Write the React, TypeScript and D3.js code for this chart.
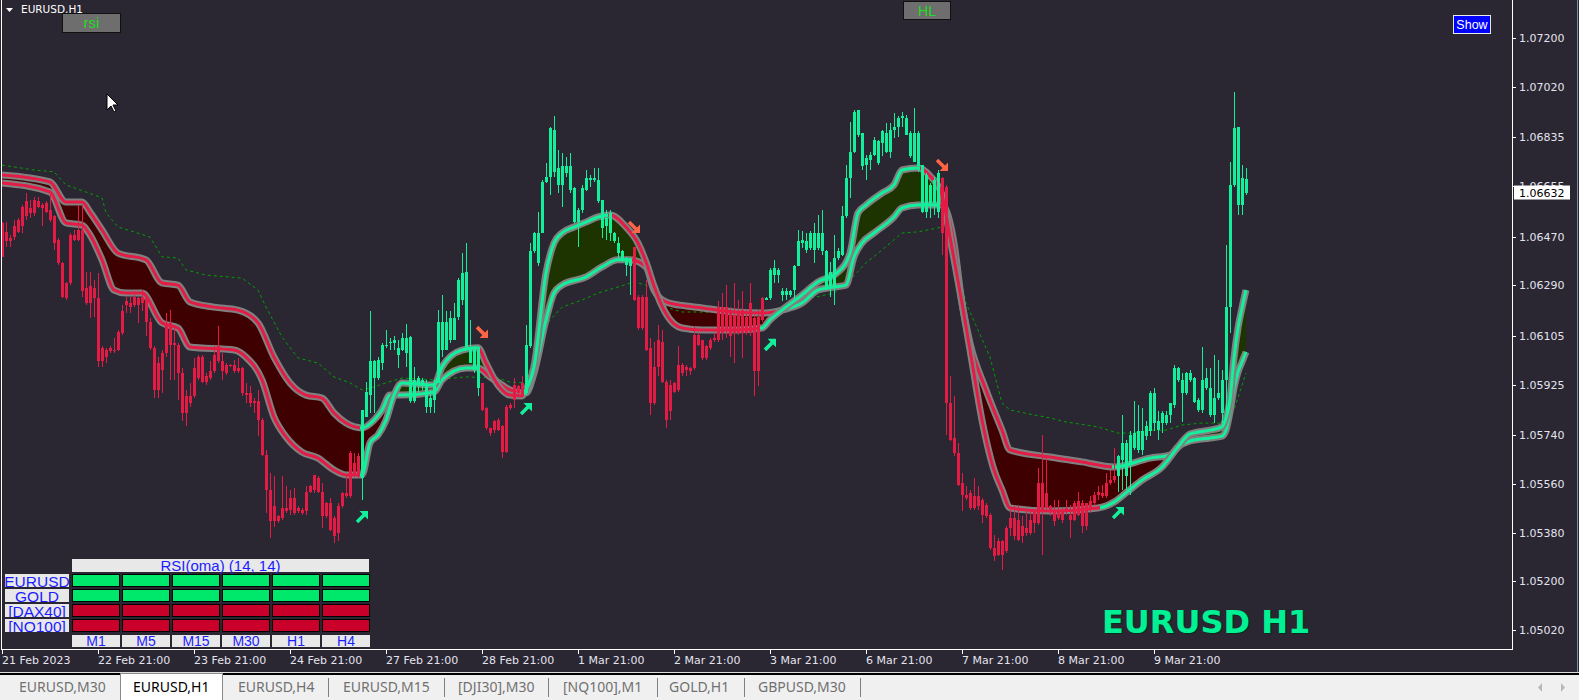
import React from "react";
import * as d3 from "d3";

// EURUSD H1 candles, prices stored as points over 1.00000 (6632 -> 1.06632)
const opens = [
  6519, 6488, 6464, 6507, 6531, 6580, 6599, 6574, 6605, 6599,
  6587, 6593, 6568, 6544, 6458, 6372, 6298, 6476, 6476, 6495,
  6495, 6280, 6286, 6280, 6243, 6059, 6053, 6059, 6053, 6120,
  6194, 6231, 6225, 6249, 6243, 6249, 6243, 6157, 6059, 6004,
  6041, 6139, 6151, 6077, 6071, 5967, 5881, 5881, 5985, 6028,
  6028, 5955, 5973, 6034, 6065, 6010, 5998, 5998, 5998, 5985,
  5985, 5893, 5893, 5863, 5863, 5795, 5666, 5537, 5476, 5439,
  5470, 5470, 5507, 5507, 5470, 5464, 5531, 5550, 5593, 5580,
  5531, 5488, 5488, 5433, 5476, 5525, 5525, 5672, 5636, 5660,
  5580, 5807, 5887, 5949, 5949, 6004, 6065, 6077, 6077, 6034,
  6053, 6040, 5863, 5863, 5924, 5918, 5844, 5844, 5869, 5930,
  6053, 6053, 6090, 6090, 6175, 6237, 6059, 6004, 5979, 5912,
  5930, 5838, 5764, 5789, 5795, 5771, 5844, 5850, 5924, 5918,
  5930, 5893, 6065, 6415, 6372, 6482, 6672, 6691, 6709, 6660,
  6660, 6703, 6642, 6525, 6525, 6568, 6642, 6679, 6679, 6599,
  6501, 6507, 6482, 6452, 6409, 6384, 6366, 6360, 6433, 6249,
  6249, 6249, 6059, 5991, 6090, 6083, 5936, 5924, 5930, 5998,
  5998, 5991, 5985, 6108, 6108, 6090, 6065, 6090, 6096, 6212,
  6212, 6212, 6188, 6182, 6188, 6200, 6175, 6225, 6169, 6175,
  6243, 6237, 6243, 6329, 6329, 6255, 6255, 6255, 6274, 6360,
  6446, 6421, 6427, 6421, 6427, 6415, 6415, 6341, 6280, 6390,
  6403, 6544, 6685, 6783, 6844, 6850, 6759, 6752, 6771, 6740,
  6814, 6783, 6783, 6863, 6875, 6906, 6906, 6850, 6746, 6850,
  6734, 6562, 6587, 6593, 6562, 6685, 6654, 5857, 5728, 5673,
  5562, 5519, 5525, 5513, 5513, 5501, 5482, 5446, 5323, 5347,
  5347, 5396, 5433, 5433, 5427, 5403, 5396, 5427, 5458, 5562,
  5562, 5525, 5476, 5458, 5464, 5458, 5470, 5446, 5488, 5495,
  5488, 5403, 5495, 5519, 5531, 5525, 5562, 5574, 5587, 5587,
  5648, 5587, 5630, 5691, 5685, 5685, 5734, 5752, 5783, 5759,
  5783, 5783, 5814, 5850, 5942, 5893, 5893, 5942, 5862, 5831,
  5831, 5911, 5813, 5813, 5874, 5819, 5942, 6212, 6660, 6874,
  6684, 6680,
];
const highs = [
  6525, 6525, 6476, 6531, 6537, 6587, 6629, 6605, 6617, 6617,
  6593, 6599, 6629, 6550, 6464, 6378, 6304, 6482, 6495, 6587,
  6587, 6341, 6341, 6310, 6335, 6065, 6059, 6065, 6096, 6126,
  6218, 6249, 6249, 6255, 6249, 6274, 6249, 6169, 6065, 6028,
  6053, 6188, 6200, 6145, 6077, 5985, 5906, 5930, 6022, 6034,
  6034, 5967, 6010, 6065, 6139, 6041, 6004, 6001, 6016, 6022,
  5991, 5930, 5918, 5875, 5906, 5801, 5685, 5599, 5587, 5445,
  5587, 5550, 5537, 5543, 5476, 5470, 5550, 5556, 5593, 5587,
  5562, 5494, 5507, 5439, 5488, 5531, 5593, 5679, 5672, 5672,
  5832, 5936, 6194, 6016, 6028, 6077, 6126, 6096, 6102, 6089,
  6114, 6148, 6102, 5991, 5955, 5948, 5942, 5906, 5942, 6200,
  6255, 6194, 6194, 6225, 6317, 6409, 6445, 6163, 6065, 6059,
  5930, 5844, 5764, 5795, 5801, 5777, 5850, 5856, 5948, 5924,
  5955, 6145, 6445, 6488, 6562, 6679, 6740, 6875, 6912, 6789,
  6777, 6764, 6777, 6654, 6574, 6660, 6715, 6697, 6721, 6721,
  6605, 6568, 6568, 6488, 6470, 6421, 6396, 6390, 6433, 6255,
  6255, 6310, 6096, 6083, 6145, 6126, 5942, 5942, 5936, 6065,
  6004, 5998, 5991, 6139, 6114, 6090, 6071, 6096, 6114, 6231,
  6261, 6292, 6212, 6298, 6237, 6268, 6200, 6298, 6182, 6200,
  6249, 6249, 6353, 6384, 6353, 6280, 6280, 6274, 6366, 6494,
  6489, 6482, 6489, 6519, 6550, 6568, 6421, 6378, 6476, 6427,
  6581, 6734, 6893, 6936, 6936, 6850, 6771, 6783, 6838, 6826,
  6863, 6887, 6887, 6924, 6912, 6930, 6918, 6857, 6943, 6857,
  6734, 6703, 6666, 6691, 6716, 6691, 6660, 5955, 5881, 5709,
  5599, 5550, 5538, 5581, 5550, 5507, 5488, 5452, 5372, 5360,
  5354, 5403, 5464, 5476, 5482, 5440, 5458, 5464, 5464, 5617,
  5740, 5666, 5482, 5501, 5501, 5470, 5501, 5482, 5495, 5531,
  5501, 5488, 5513, 5531, 5550, 5556, 5599, 5611, 5691, 5666,
  5814, 5722, 5752, 5863, 5850, 5838, 5789, 5900, 5912, 5826,
  5826, 5826, 5857, 5997, 5991, 5966, 5972, 5979, 5954, 5874,
  6064, 5985, 5985, 6034, 6015, 5979, 6439, 6745, 7003, 6874,
  6733, 6721,
];
const lows = [
  6396, 6433, 6433, 6458, 6482, 6482, 6531, 6537, 6544, 6574,
  6507, 6556, 6525, 6421, 6366, 6243, 6237, 6292, 6452, 6452,
  6249, 6218, 6169, 6175, 5991, 5991, 6004, 6040, 6041, 6047,
  6108, 6188, 6188, 6212, 6151, 6194, 6102, 6053, 5875, 5875,
  5893, 6028, 5942, 5942, 5869, 5789, 5771, 5844, 5875, 5942,
  5930, 5924, 5942, 5967, 6004, 5942, 5961, 5991, 5967, 5967,
  5881, 5856, 5844, 5820, 5734, 5660, 5452, 5360, 5402, 5415,
  5427, 5452, 5445, 5445, 5452, 5445, 5445, 5525, 5525, 5525,
  5396, 5433, 5384, 5341, 5347, 5470, 5507, 5507, 5587, 5580,
  5501, 5807, 5820, 5820, 5942, 5979, 6059, 6053, 6053, 5985,
  6047, 5991, 5856, 5856, 5893, 5905, 5820, 5820, 5820, 5930,
  6028, 6053, 6077, 6090, 6163, 6218, 6047, 6004, 5967, 5881,
  5826, 5758, 5734, 5746, 5752, 5654, 5672, 5832, 5838, 5887,
  5881, 5887, 6059, 6409, 6360, 6482, 6666, 6623, 6691, 6629,
  6580, 6691, 6629, 6519, 6433, 6556, 6636, 6654, 6672, 6593,
  6464, 6458, 6452, 6445, 6390, 6378, 6323, 6255, 6231, 6126,
  6126, 6047, 5813, 5850, 5955, 5930, 5764, 5795, 5893, 5899,
  5955, 5955, 5961, 5979, 6065, 6016, 6016, 6053, 6083, 6083,
  6090, 6096, 6028, 6004, 6108, 6022, 6108, 6102, 5881, 5918,
  6157, 6237, 6237, 6298, 6298, 6231, 6237, 6249, 6231, 6360,
  6427, 6409, 6421, 6372, 6421, 6403, 6274, 6249, 6219, 6384,
  6397, 6538, 6611, 6777, 6838, 6716, 6679, 6716, 6765, 6734,
  6765, 6777, 6758, 6832, 6838, 6875, 6844, 6758, 6746, 6709,
  6556, 6538, 6538, 6550, 6538, 6403, 5740, 5716, 5660, 5550,
  5458, 5501, 5464, 5464, 5464, 5415, 5433, 5317, 5274, 5292,
  5243, 5305, 5366, 5354, 5348, 5341, 5366, 5372, 5378, 5409,
  5298, 5464, 5440, 5403, 5427, 5415, 5446, 5360, 5421, 5440,
  5378, 5390, 5452, 5476, 5501, 5507, 5507, 5556, 5562, 5531,
  5538, 5538, 5519, 5685, 5673, 5667, 5722, 5734, 5752, 5722,
  5746, 5777, 5783, 5837, 5936, 5788, 5887, 5936, 5856, 5825,
  5819, 5905, 5807, 5782, 5868, 5782, 5807, 6113, 6653, 6549,
  6549, 6623,
];
const closes = [
  6396, 6452, 6455, 6470, 6488, 6507, 6544, 6556, 6556, 6580,
  6574, 6562, 6531, 6445, 6372, 6249, 6243, 6298, 6458, 6458,
  6268, 6225, 6225, 6243, 6010, 6010, 6028, 6047, 6050, 6053,
  6114, 6218, 6212, 6218, 6218, 6225, 6157, 6059, 5906, 5906,
  5979, 6041, 6071, 6071, 5967, 5820, 5820, 5856, 5881, 5949,
  5936, 5936, 5949, 5973, 6010, 5973, 5967, 5994, 5973, 5973,
  5893, 5887, 5856, 5856, 5795, 5666, 5537, 5421, 5421, 5421,
  5433, 5458, 5464, 5452, 5458, 5452, 5458, 5531, 5537, 5531,
  5439, 5439, 5390, 5366, 5378, 5476, 5513, 5513, 5593, 5593,
  5832, 5899, 6010, 6010, 6016, 6071, 6071, 6083, 6089, 6059,
  6096, 6096, 6099, 5942, 5948, 5942, 5924, 5875, 5930, 6157,
  6157, 6157, 6169, 6169, 6310, 6335, 6341, 6059, 6059, 6053,
  5832, 5764, 5746, 5758, 5758, 5678, 5678, 5838, 5869, 5893,
  5887, 6071, 6415, 6482, 6482, 6672, 6691, 6869, 6863, 6721,
  6728, 6728, 6728, 6648, 6568, 6648, 6685, 6685, 6685, 6679,
  6605, 6537, 6556, 6482, 6445, 6415, 6390, 6384, 6237, 6132,
  6132, 6053, 5856, 5856, 5991, 5936, 5795, 5826, 5899, 5906,
  5967, 5979, 5973, 5985, 6071, 6022, 6022, 6059, 6090, 6090,
  6114, 6126, 6102, 6114, 6114, 6114, 6114, 6120, 5973, 5973,
  6163, 6243, 6347, 6353, 6347, 6268, 6268, 6268, 6360, 6452,
  6458, 6452, 6482, 6482, 6482, 6482, 6280, 6280, 6390, 6415,
  6544, 6685, 6783, 6930, 6936, 6728, 6734, 6771, 6826, 6820,
  6857, 6850, 6863, 6875, 6906, 6912, 6844, 6765, 6850, 6728,
  6562, 6697, 6660, 6679, 6703, 6482, 5857, 5722, 5673, 5556,
  5519, 5507, 5470, 5470, 5476, 5446, 5440, 5323, 5292, 5298,
  5298, 5311, 5396, 5366, 5354, 5366, 5378, 5378, 5415, 5415,
  5464, 5470, 5464, 5421, 5433, 5427, 5458, 5427, 5427, 5446,
  5403, 5488, 5464, 5488, 5519, 5513, 5513, 5562, 5574, 5660,
  5709, 5709, 5740, 5746, 5752, 5752, 5771, 5893, 5893, 5789,
  5820, 5814, 5857, 5985, 5985, 5942, 5966, 5966, 5948, 5868,
  5942, 5948, 5911, 5874, 5893, 5942, 6212, 6660, 6868, 6586,
  6586, 6632,
];

// bars where candle trend flips (starts red)
const candleTurns = [90, 120, 131, 158, 191, 235, 279];

// fast / slow smoothed lines of the HL band, sampled at bar indices
const fastBars = [0, 12, 16, 20, 22, 25, 28, 31, 35, 40, 44, 47, 58, 61, 65, 68, 71, 75, 79, 83, 86, 90, 92, 94, 96, 98, 100, 104, 108, 110, 115, 119, 121, 124, 127, 130, 131, 133, 136, 138, 140, 143, 146, 149, 152, 156, 159, 161, 163, 165, 168, 170, 175, 183, 190, 192, 195, 200, 204, 209, 212, 214, 216, 220, 223, 225, 229, 232, 235, 237, 240, 242, 245, 248, 250, 252, 262, 274, 278, 281, 285, 290, 294, 297, 302, 305, 306, 307, 308, 309, 310, 311];
const fastVals = [6667, 6634, 6520, 6512, 6476, 6384, 6273, 6262, 6262, 6152, 6133, 6063, 6052, 6026, 5942, 5805, 5732, 5676, 5654, 5610, 5592, 5592, 5710, 5739, 5794, 5886, 5931, 5927, 5923, 5990, 6052, 6060, 6004, 5923, 5886, 5883, 5905, 5990, 6336, 6446, 6483, 6505, 6523, 6542, 6549, 6505, 6446, 6376, 6288, 6214, 6148, 6133, 6126, 6126, 6133, 6163, 6199, 6255, 6303, 6339, 6409, 6557, 6586, 6630, 6660, 6715, 6722, 6693, 6623, 6468, 6225, 6052, 5794, 5610, 5537, 5470, 5459, 5470, 5492, 5526, 5573, 5621, 5695, 5743, 5757, 5769, 5802, 5868, 6023, 6133, 6207, 6273];
const fastTurns = [90, 120, 131, 152, 190, 230, 275];

const slowBars = [0, 12, 16, 20, 22, 25, 29, 36, 40, 44, 47, 53, 59, 64, 68, 72, 76, 80, 83, 86, 90, 93, 95, 97, 100, 108, 110, 116, 119, 122, 125, 127, 130, 131, 133, 136, 138, 140, 146, 150, 154, 157, 161, 163, 166, 171, 175, 183, 190, 195, 200, 204, 208, 211, 213, 215, 218, 223, 225, 229, 235, 238, 240, 242, 246, 250, 252, 262, 270, 278, 287, 292, 294, 297, 302, 305, 306, 307, 308, 309, 310, 311];
const slowVals = [6697, 6671, 6597, 6597, 6560, 6494, 6409, 6384, 6299, 6291, 6229, 6210, 6199, 6152, 6026, 5931, 5886, 5875, 5820, 5783, 5765, 5794, 5831, 5886, 5886, 5897, 5942, 5986, 5986, 5953, 5923, 5905, 5894, 5894, 5967, 6163, 6262, 6291, 6321, 6358, 6384, 6384, 6358, 6273, 6229, 6214, 6207, 6192, 6188, 6199, 6225, 6273, 6284, 6291, 6395, 6446, 6483, 6542, 6575, 6586, 6586, 6446, 6225, 6078, 5905, 5757, 5684, 5658, 5640, 5621, 5654, 5665, 5695, 5717, 5728, 5735, 5757, 5824, 5912, 5971, 6008, 6045];
const slowTurns = [90, 120, 131, 158, 194, 235, 278];

// dotted green average
const dashBars = [0, 8, 13, 16, 21, 25, 26, 29, 33, 37, 40, 44, 46, 51, 60, 64, 66, 70, 74, 79, 83, 87, 90, 93, 96, 100, 108, 116, 124, 127, 131, 134, 137, 140, 145, 149, 154, 158, 161, 164, 166, 170, 183, 191, 200, 208, 212, 216, 220, 225, 229, 235, 238, 241, 244, 247, 250, 252, 258, 262, 266, 274, 279, 283, 287, 291, 295, 300, 305, 308, 311];
const dashVals = [6733, 6715, 6708, 6660, 6634, 6612, 6557, 6505, 6487, 6468, 6395, 6391, 6347, 6328, 6317, 6273, 6210, 6100, 6023, 6004, 5953, 5931, 5905, 5916, 5931, 5949, 5942, 5953, 5949, 5934, 5931, 6089, 6163, 6210, 6236, 6262, 6284, 6303, 6291, 6262, 6210, 6192, 6192, 6188, 6236, 6262, 6310, 6373, 6420, 6483, 6487, 6505, 6431, 6225, 6126, 6026, 5857, 5831, 5813, 5802, 5787, 5769, 5746, 5746, 5757, 5757, 5776, 5783, 5783, 5831, 5967];

// signal arrows
const buyBars = [90, 131, 192, 279];
const buyVals = [5437, 5835, 6071, 5452];
const sellBars = [120, 158, 235];
const sellVals = [6118, 6505, 6733];

const priceTicks = [1.072, 1.0702, 1.06835, 1.06655, 1.0647, 1.0629, 1.06105, 1.05925, 1.0574, 1.0556, 1.0538, 1.052, 1.0502];
const lastPrice = 1.06632;
const dateLabels = ["21 Feb 2023", "22 Feb 21:00", "23 Feb 21:00", "24 Feb 21:00", "27 Feb 21:00", "28 Feb 21:00", "1 Mar 21:00", "2 Mar 21:00", "3 Mar 21:00", "6 Mar 21:00", "7 Mar 21:00", "8 Mar 21:00", "9 Mar 21:00"];

const rsiSymbols = ["EURUSD", "GOLD", "[DAX40]", "[NQ100]"];
const rsiFrames = ["M1", "M5", "M15", "M30", "H1", "H4"];
const rsiUp = [
  [1, 1, 1, 1, 1, 1],
  [1, 1, 1, 1, 1, 1],
  [0, 0, 0, 0, 0, 0],
  [0, 0, 0, 0, 0, 0],
];

const tabs = ["EURUSD,M30", "EURUSD,H1", "EURUSD,H4", "EURUSD,M15", "[DJI30],M30", "[NQ100],M1", "GOLD,H1", "GBPUSD,M30"];
const tabX = [19, 133, 238, 343, 458, 563, 669, 758];
const tabSeps = [328, 444, 548, 657, 744, 860];

const BG = "#2a2632";
const RED = "#e41b45";
const GREEN = "#12f09c";
const FG = "#e4e4ee";
const AXIS_FONT = "'DejaVu Sans', sans-serif";
const PLOT_R = 1512;
const PLOT_B = 649;

const P = (v: number) => 1 + v / 1e5;

export default function App() {
  const n = opens.length;
  const x = d3.scaleLinear().domain([0, n - 1]).range([2, 1246]);
  const y = d3.scaleLinear().domain([1.04951, 1.07341]).range([PLOT_B, 0]);
  const yv = (v: number) => y(P(v));
  const upCount = (turns: number[], i: number) => turns.filter((t) => t <= i).length;
  const candleColor = (i: number) => (upCount(candleTurns, i) % 2 ? GREEN : RED);

  const lineOf = (bars: number[]) =>
    d3.line<number>().x((_, k) => x(bars[k])).y(yv).curve(d3.curveMonotoneX);
  const areaOf = (bars: number[], edge: number) =>
    d3.area<number>().x((_, k) => x(bars[k])).y0(edge).y1(yv).curve(d3.curveMonotoneX);

  const fastPath = lineOf(fastBars)(fastVals) || "";
  const slowPath = lineOf(slowBars)(slowVals) || "";
  const dashPath = d3.line<number>().x((_, k) => x(dashBars[k])).y(yv)(dashVals) || "";

  const stops = (turns: number[]) => {
    const x0 = x(0);
    const x1 = x(n - 1);
    const out = [{ o: 0, c: RED }];
    turns.forEach((t, k) => {
      const o = (x(t - 0.5) - x0) / (x1 - x0);
      out.push({ o, c: k % 2 ? GREEN : RED }, { o, c: k % 2 ? RED : GREEN });
    });
    out.push({ o: 1, c: turns.length % 2 ? GREEN : RED });
    return out;
  };

  const grad = (id: string, turns: number[]) => (
    <linearGradient id={id} gradientUnits="userSpaceOnUse" x1={x(0)} x2={x(n - 1)} y1={0} y2={0}>
      {stops(turns).map((s, k) => (
        <stop key={k} offset={s.o} stopColor={s.c} />
      ))}
    </linearGradient>
  );

  const priceY = y(lastPrice);

  return (
    <svg
      width={1579}
      height={700}
      style={{ position: "absolute", left: 0, top: 0, display: "block", background: BG }}
    >
      <defs>
        <clipPath id="plot">
          <rect x={2} y={0} width={PLOT_R - 2} height={PLOT_B} />
        </clipPath>
        <clipPath id="aboveSlow">
          <path d={areaOf(slowBars, 0)(slowVals) || ""} />
        </clipPath>
        <clipPath id="belowSlow">
          <path d={areaOf(slowBars, PLOT_B)(slowVals) || ""} />
        </clipPath>
        {grad("gFast", fastTurns)}
        {grad("gSlow", slowTurns)}
      </defs>

      <rect x={0} y={0} width={1579} height={700} fill={BG} />

      <g clipPath="url(#plot)">
        {/* band fill: green where fast is above slow, dark red otherwise */}
        <g clipPath="url(#aboveSlow)">
          <path d={areaOf(fastBars, PLOT_B)(fastVals) || ""} fill="#1e3400" />
        </g>
        <g clipPath="url(#belowSlow)">
          <path d={areaOf(fastBars, 0)(fastVals) || ""} fill="#3e0000" />
        </g>

        <path d={dashPath} fill="none" stroke="#00a000" strokeWidth={1} strokeDasharray="3,3" />

        {[slowPath, fastPath].map((d, k) => (
          <g key={k}>
            <path d={d} fill="none" stroke="#808080" strokeWidth={7} />
            <path d={d} fill="none" stroke={k ? "url(#gFast)" : "url(#gSlow)"} strokeWidth={3} />
          </g>
        ))}

        <g shapeRendering="crispEdges">
          {opens.map((o, i) => {
            const cx = Math.round(x(i));
            const c = closes[i];
            const top = yv(Math.max(o, c));
            const bot = yv(Math.min(o, c));
            const col = candleColor(i);
            return (
              <g key={i} fill={col}>
                <rect x={cx} y={yv(highs[i])} width={1} height={Math.max(1, yv(lows[i]) - yv(highs[i]))} />
                <rect x={cx - 1} y={top} width={3} height={Math.max(1, bot - top)} />
              </g>
            );
          })}
        </g>

        {buyBars.map((b, k) => (
          <g key={"b" + k} transform={`translate(${x(b)},${yv(buyVals[k])})`} fill={GREEN} stroke={GREEN}>
            <line x1={-5} y1={5} x2={2} y2={-2} strokeWidth={3.6} />
            <path d="M6,-6 L6,2.5 L-2.5,-6 Z" stroke="none" />
          </g>
        ))}
        {sellBars.map((b, k) => (
          <g key={"s" + k} transform={`translate(${x(b)},${yv(sellVals[k])})`} fill="#ff6545" stroke="#ff6545">
            <line x1={-5} y1={-5} x2={2} y2={2} strokeWidth={3.6} />
            <path d="M6,6 L6,-2.5 L-2.5,6 Z" stroke="none" />
          </g>
        ))}
      </g>

      {/* frame */}
      <path
        d={`M1.5,0 V${PLOT_B + 0.5} H${PLOT_R + 0.5} V0`}
        fill="none"
        stroke="#ffffff"
        strokeWidth={1}
        shapeRendering="crispEdges"
      />

      {/* price axis */}
      <g fontFamily={AXIS_FONT} fontSize={11} fill={FG}>
        {priceTicks.map((v) => (
          <g key={v}>
            <line x1={PLOT_R} x2={PLOT_R + 4} y1={Math.round(y(v)) + 0.5} y2={Math.round(y(v)) + 0.5} stroke="#ffffff" />
            <text x={1519} y={y(v) + 4}>{v.toFixed(5)}</text>
          </g>
        ))}
        <rect x={1514} y={priceY - 7} width={56} height={14} fill="#ffffff" />
        <text x={1519} y={priceY + 4} fill="#000000">{lastPrice.toFixed(5)}</text>
      </g>

      {/* time axis */}
      <g fontFamily={AXIS_FONT} fontSize={11} fill={FG}>
        {dateLabels.map((t, k) => {
          const tx = Math.round(x(k * 24));
          return (
            <g key={t}>
              <line x1={tx + 0.5} x2={tx + 0.5} y1={PLOT_B} y2={PLOT_B + 5} stroke="#ffffff" />
              <text x={tx} y={664}>{t}</text>
            </g>
          );
        })}
      </g>

      {/* title and buttons */}
      <path d="M6,8 L13,8 L9.5,12 Z" fill="#ffffff" />
      <text x={21} y={13} fontFamily={AXIS_FONT} fontSize={10.5} fill="#ffffff">EURUSD,H1</text>
      <rect x={62.5} y={13.5} width={58} height={19} fill="#6e6e6e" stroke="#111111" />
      <text x={91.5} y={28} textAnchor="middle" fontFamily="'Liberation Sans', sans-serif" fontSize={15} fill="#22dd22">rsi</text>
      <rect x={903.5} y={1.5} width={47} height={18} fill="#6e6e6e" stroke="#111111" />
      <text x={927} y={15.5} textAnchor="middle" fontFamily="'Liberation Sans', sans-serif" fontSize={14} fill="#22dd22">HL</text>
      <rect x={1453.5} y={15.5} width={37} height={18} fill="#0000ff" stroke="#e8e8e8" />
      <text x={1472} y={29} textAnchor="middle" fontFamily="'Liberation Sans', sans-serif" fontSize={12.5} fill="#ffffff">Show</text>

      {/* mouse pointer */}
      <path d="M107,94 L107,110 L111,106 L114,112 L116,111 L113,105 L118,105 Z" fill="#ffffff" stroke="#000000" strokeWidth={1} />

      {/* big symbol label */}
      <text x={1103} y={634} fontFamily="'DejaVu Sans', sans-serif" fontWeight="bold" fontSize={32} fill="#0b2a1e">EURUSD H1</text>
      <text x={1102} y={633} fontFamily="'DejaVu Sans', sans-serif" fontWeight="bold" fontSize={32} fill="#00f094">EURUSD H1</text>

      {/* RSI table */}
      <g fontFamily="'Liberation Sans', sans-serif" fill="#1c1cff">
        <rect x={72} y={559} width={297} height={13} fill="#e8e8e8" />
        <text x={220.5} y={571} textAnchor="middle" fontSize={15}>RSI(oma) (14, 14)</text>
        {rsiSymbols.map((s, r) => {
          const ry = 574 + r * 15;
          return (
            <g key={s}>
              <clipPath id={"lab" + r}>
                <rect x={5} y={ry} width={64} height={13} />
              </clipPath>
              <rect x={5} y={ry} width={64} height={13} fill="#e8e8e8" />
              <text x={37} y={ry + 13} textAnchor="middle" fontSize={15.5} clipPath={`url(#lab${r})`}>{s}</text>
              {rsiUp[r].map((u, c) => (
                <rect
                  key={c}
                  x={72.5 + c * 50}
                  y={ry + 0.5}
                  width={47}
                  height={12}
                  fill={u ? "#00e86c" : "#c8002a"}
                  stroke="#000000"
                />
              ))}
            </g>
          );
        })}
        {rsiFrames.map((f, c) => (
          <g key={f}>
            <rect x={72 + c * 50} y={635} width={48} height={12} fill="#e8e8e8" />
            <text x={96 + c * 50} y={646} textAnchor="middle" fontSize={14}>{f}</text>
          </g>
        ))}
      </g>

      {/* window borders and tab bar */}
      <line x1={1577.5} x2={1577.5} y1={0} y2={673} stroke="#7d8cab" />
      <rect x={0} y={672} width={1579} height={1} fill="#dcdcdc" />
      <rect x={0} y={673} width={1579} height={2} fill="#000000" />
      <rect x={0} y={675} width={1579} height={25} fill="#f0f0f0" />
      <rect x={120.5} y={673.5} width={102} height={27} fill="#ffffff" stroke="#8a8a8a" />
      <g fontFamily="'Noto Sans', sans-serif" fontSize={14}>
        {tabs.map((t, k) => (
          <text key={t} x={tabX[k]} y={692} fill={k === 1 ? "#000000" : "#707070"}>{t}</text>
        ))}
      </g>
      {tabSeps.map((s) => (
        <line key={s} x1={s + 0.5} x2={s + 0.5} y1={678} y2={697} stroke="#808080" />
      ))}
      <path d="M1542,683 L1538,687.5 L1542,692 Z" fill="#b8b8b8" />
      <path d="M1561,683 L1565,687.5 L1561,692 Z" fill="#b8b8b8" />
    </svg>
  );
}
